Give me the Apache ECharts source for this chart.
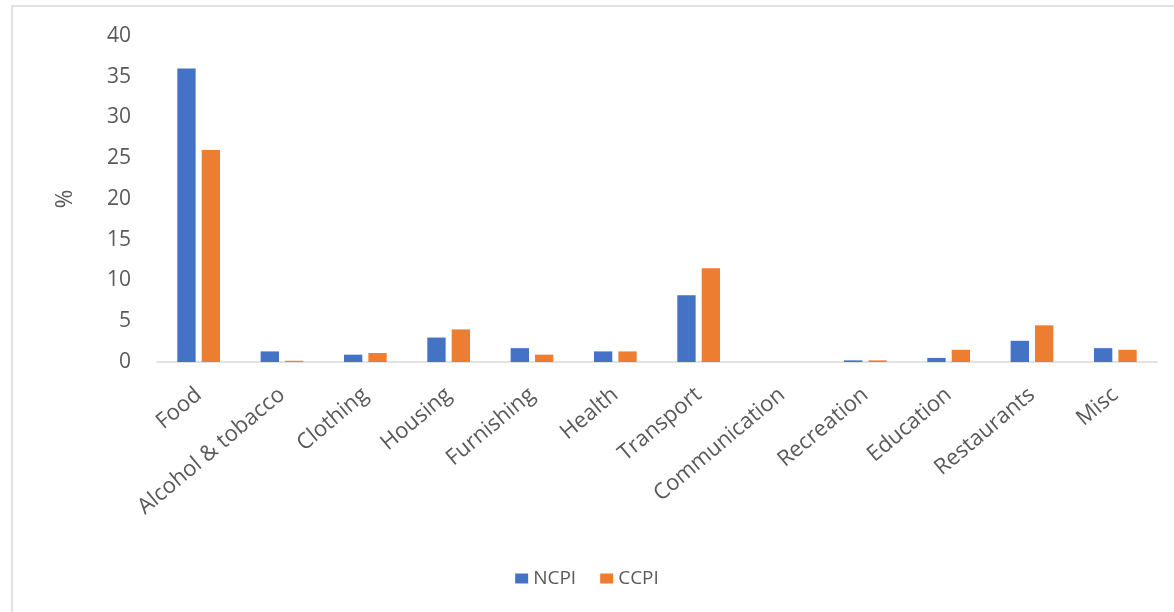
<!DOCTYPE html>
<html>
<head>
<meta charset="utf-8">
<script src="https://cdn.jsdelivr.net/npm/echarts@6/dist/echarts.min.js"></script>
<style>
html,body{margin:0;padding:0;background:#fff;}
#chart{width:1174px;height:612px;}
</style>
</head>
<body>
<div id="chart"></div>
<script>
const categories = ['Food','Alcohol & tobacco','Clothing','Housing','Furnishing','Health','Transport','Communication','Recreation','Education','Restaurants','Misc'];
const ncpi = [36, 1.3, 0.9, 3.0, 1.7, 1.3, 8.2, 0, 0.2, 0.5, 2.6, 1.7];
const ccpi = [26, 0.15, 1.1, 4.0, 0.9, 1.3, 11.5, 0, 0.2, 1.5, 4.5, 1.5];
const yTicks = [0, 5, 10, 15, 20, 25, 30, 35, 40];

const chart = echarts.init(document.getElementById('chart'));
const font = '"Open Sans", "Noto Sans", sans-serif';
chart.setOption({
  animation: false,
  textStyle: {fontFamily: font},
  graphic: [{
    type: 'rect', shape: {x: 12, y: 6, width: 1180, height: 620},
    style: {fill: 'none', stroke: '#d9d9d9', lineWidth: 1.5}, silent: true, z: -1
  }],
  grid: {left: 157, right: 17, top: 36, bottom: 250, containLabel: false},
  legend: {
    data: ['NCPI', 'CCPI'], bottom: 19, left: 'center',
    itemWidth: 13, itemHeight: 10, itemGap: 24, icon: 'rect',
    textStyle: {color: '#595959', fontSize: 19, fontFamily: font}
  },
  xAxis: {
    type: 'category', data: categories,
    axisLine: {lineStyle: {color: '#d9d9d9', width: 1.5}},
    axisTick: {show: false},
    axisLabel: {rotate: 40, color: '#595959', fontSize: 22, margin: 30, interval: 0, fontFamily: font}
  },
  yAxis: {
    type: 'value', min: yTicks[0], max: yTicks[yTicks.length - 1], interval: 5,
    name: '%', nameLocation: 'middle', nameGap: 80, nameRotate: 90,
    nameTextStyle: {color: '#595959', fontSize: 23, fontFamily: font},
    axisLine: {show: false}, axisTick: {show: false},
    splitLine: {show: false},
    axisLabel: {color: '#595959', fontSize: 21, margin: 26, fontFamily: font}
  },
  series: [
    {name: 'NCPI', type: 'bar', data: ncpi, barWidth: '22%', barGap: '33%', itemStyle: {color: '#4472C4'}},
    {name: 'CCPI', type: 'bar', data: ccpi, barWidth: '22%', barGap: '33%', itemStyle: {color: '#ED7D31'}}
  ]
});
</script>
</body>
</html>
